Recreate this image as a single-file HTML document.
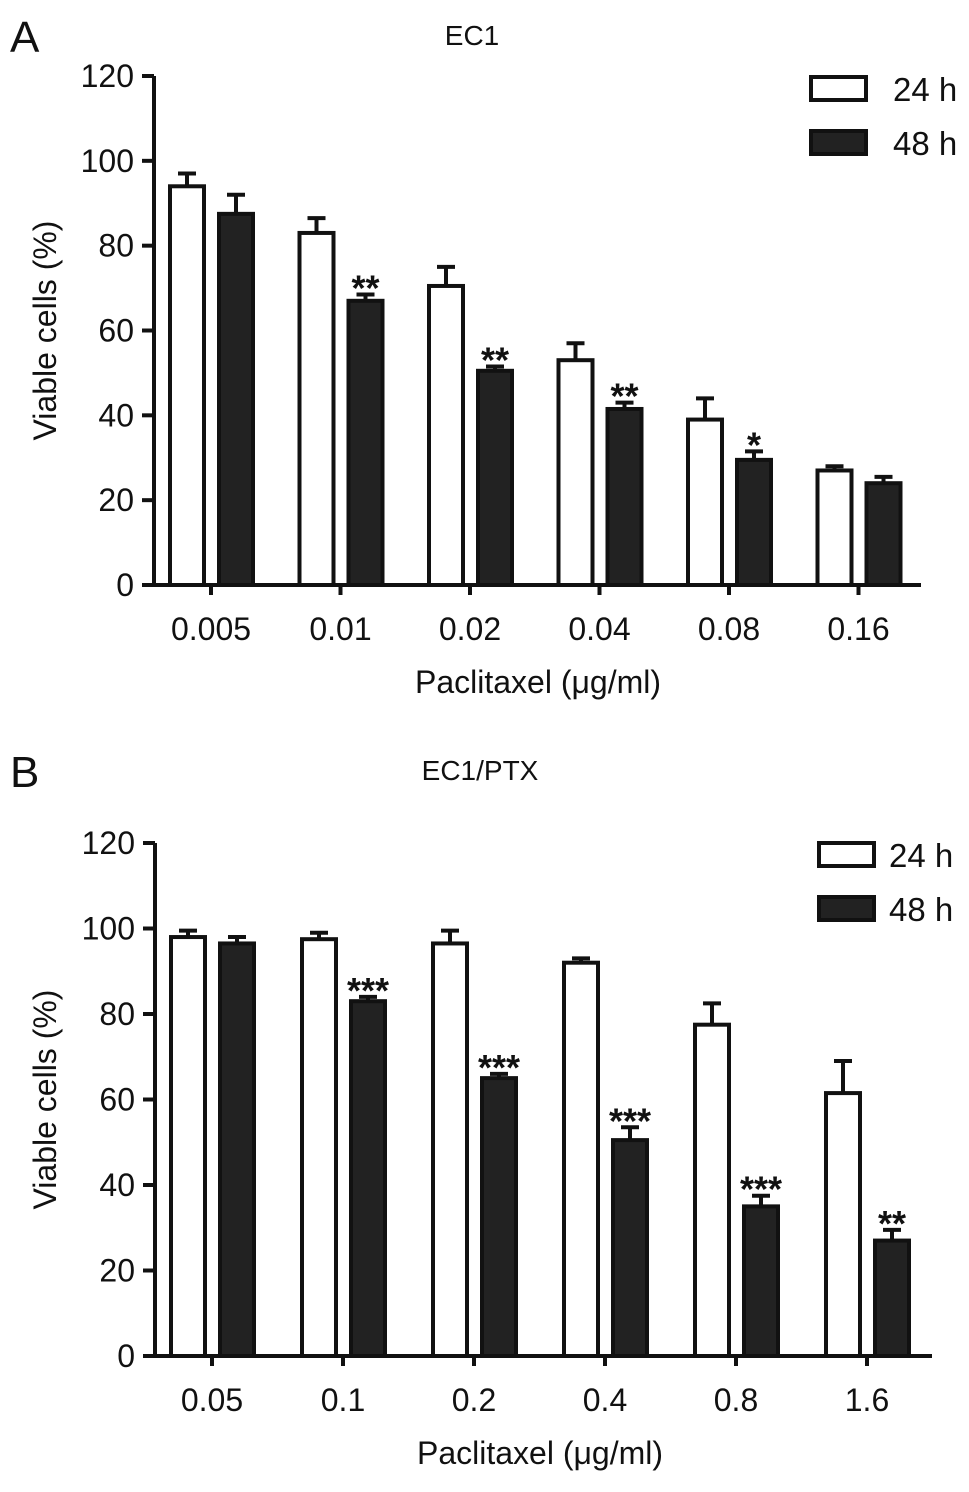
<!DOCTYPE html>
<html><head><meta charset="utf-8"><style>
body{margin:0;background:#fff;}
svg text{font-family:"Liberation Sans",Arial,sans-serif;fill:#111;}
</style></head><body>
<svg id="chart" width="969" height="1487" viewBox="0 0 969 1487" xmlns="http://www.w3.org/2000/svg"></svg>
<script>
const catsA=["0.005","0.01","0.02","0.04","0.08","0.16"];
const a24=[94,83,70.5,53,39,27];
const a24err=[3,3.5,4.5,4,5,1];
const a48=[87.5,67,50.5,41.5,29.5,24];
const a48err=[4.5,1.5,1,1.5,2,1.5];
const aSig=["","**","**","**","*",""];
const catsB=["0.05","0.1","0.2","0.4","0.8","1.6"];
const b24=[98,97.5,96.5,92,77.5,61.5];
const b24err=[1.5,1.5,3,1,5,7.5];
const b48=[96.5,83,65,50.5,35,27];
const b48err=[1.5,1,1,3,2.5,2.5];
const bSig=["","***","***","***","***","**"];
const yTicks=[0,20,40,60,80,100,120];

const svg=document.getElementById('chart');
const NS="http://www.w3.org/2000/svg";
function mk(tag,attrs,parent){const e=document.createElementNS(NS,tag);for(const k in attrs)e.setAttribute(k,attrs[k]);(parent||svg).appendChild(e);return e;}

function panel(p){
  const g=mk('g',{});
  
  
  const y=v=>p.y0-(v/120)*(p.y0-p.y120);
  const cx=i=>p.c0+i*p.step;
  const L=mk('text',{x:10,y:p.letterY,'font-size':44},g);L.textContent=p.letter;
  
  
  const T=mk('text',{x:p.titleX,y:p.titleY,'font-size':28,'text-anchor':'middle'},g);T.textContent=p.title;
  
  
  for(let i=0;i<p.cats.length;i++){
    const series=[[p.v24,p.e24,'#fff',-1],[p.v48,p.e48,'#222',1]];
    series.forEach(([v,e,fill,side])=>{
      const x0=side<0?cx(i)-41:cx(i)+8;
      const w=34;
      const top=y(v[i]);
      const et=y(v[i]+e[i]);
      const ln=mk('line',{x1:x0+w/2,x2:x0+w/2,y1:top,y2:et,stroke:'#111','stroke-width':4},g);
      
      
      const cap=mk('line',{x1:x0+w/2-9,x2:x0+w/2+9,y1:et,y2:et,stroke:'#111','stroke-width':4},g);
      
      
      const r=mk('rect',{x:x0,y:top,width:w,height:p.y0-top,fill:fill,stroke:'#111','stroke-width':4},g);
      
      
    });
    if(p.sig[i]){
      const s=mk('text',{x:cx(i)+25,y:y(p.v48[i]+p.e48[i])+6,'font-size':36,'font-weight':'bold','text-anchor':'middle'},g);
      s.textContent=p.sig[i];
      
      
    }
    const tk=mk('line',{x1:cx(i),x2:cx(i),y1:p.y0,y2:p.y0+10,stroke:'#111','stroke-width':4},g);
    
    
    const tl=mk('text',{x:cx(i),y:p.y0+55,'font-size':32,'text-anchor':'middle'},g);
    tl.textContent=p.cats[i];
    
    
  }
  const ya=mk('line',{x1:p.ax,x2:p.ax,y1:p.y120,y2:p.y0+2,stroke:'#111','stroke-width':4},g);
  
  
  const xa=mk('line',{x1:p.ax-10,x2:p.xEnd,y1:p.y0,y2:p.y0,stroke:'#111','stroke-width':4},g);
  
  
  yTicks.forEach(t=>{
    const l=mk('line',{x1:p.ax-12,x2:p.ax,y1:y(t),y2:y(t),stroke:'#111','stroke-width':4},g);
    
    
    const tx=mk('text',{x:p.ax-20,y:y(t)+11,'font-size':32,'text-anchor':'end'},g);
    tx.textContent=t;
    
    
  });
  const yt=mk('text',{x:0,y:0,'font-size':32,'text-anchor':'middle',transform:`translate(56,${(p.y0+p.y120)/2}) rotate(-90)`},g);
  yt.textContent='Viable cells (%)';
  
  
  const xt=mk('text',{x:p.xtX,y:p.y0+108,'font-size':32,'text-anchor':'middle'},g);
  xt.textContent='Paclitaxel (\u03bcg/ml)';
  
  
  [['24 h','#fff',0],['48 h','#222',1]].forEach(([lab,fill,k])=>{
    const by=p.legY+k*54;
    const r=mk('rect',{x:p.legX,y:by,width:55,height:23,fill:fill,stroke:'#111','stroke-width':4},g);
    
    
    const t=mk('text',{x:p.legX+p.legOff,y:by+24,'font-size':33},g);
    t.textContent=lab;
    
    
  });
}
panel({id:'a',letter:'A',letterY:52,title:'EC1',titleX:472,titleY:45,cats:catsA,v24:a24,e24:a24err,v48:a48,e48:a48err,sig:aSig,
  y0:585,y120:76,ax:154,c0:211,step:129.5,xEnd:921,xtX:538,legX:811,legY:77,legOff:82});
panel({id:'b',letter:'B',letterY:787,title:'EC1/PTX',titleX:480,titleY:780,cats:catsB,v24:b24,e24:b24err,v48:b48,e48:b48err,sig:bSig,
  y0:1356,y120:843,ax:155,c0:212,step:131,xEnd:932,xtX:540,legX:819,legY:843,legOff:70});
</script>
</body></html>
